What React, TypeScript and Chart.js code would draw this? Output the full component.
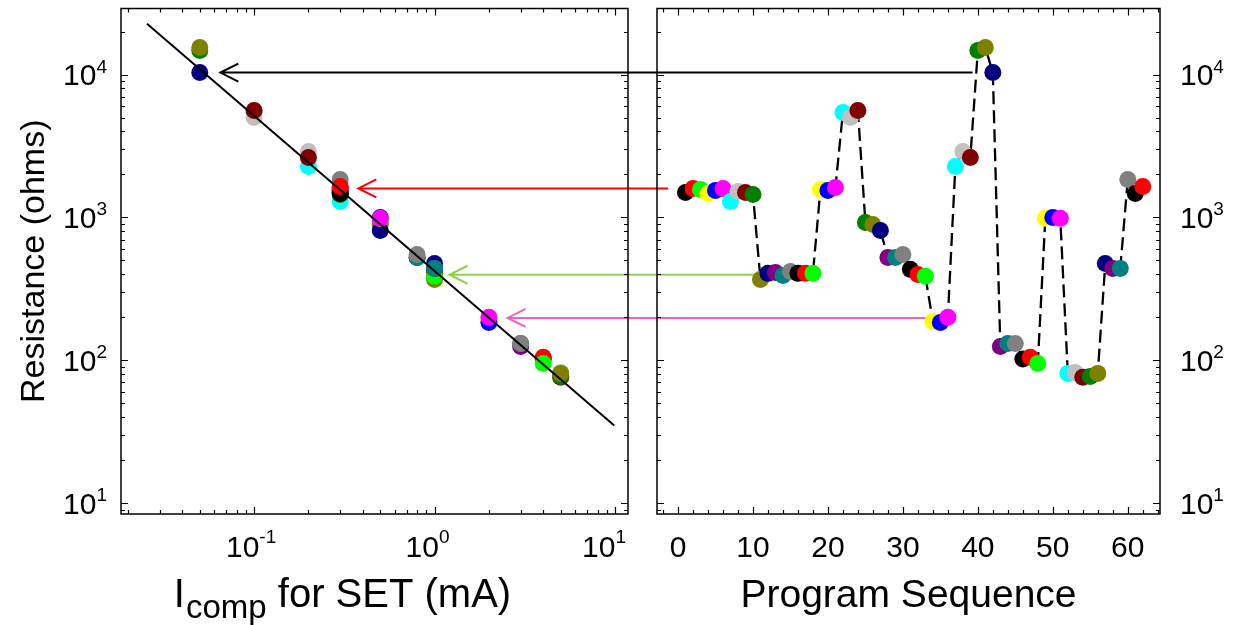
import React, { useEffect, useRef } from 'react';
import { Chart, registerables } from 'chart.js';
Chart.register(...registerables);

const W = 1233;
const H = 625;
const FONT = '"Liberation Sans", Arial, Helvetica, sans-serif';

// ---- data ----
const programSequence = [
  1, 2, 3, 4, 5, 6, 7, 8, 9, 10,
  11, 12, 13, 14, 15, 16, 17, 18,
  19, 20, 21, 22, 23, 24, 25, 26, 27, 28, 29, 30,
  31, 32, 33, 34, 35, 36, 37, 38, 39, 40, 41, 42,
  43, 44, 45, 46, 47, 48, 49, 50, 51,
  52, 53, 54, 55, 56, 57, 58, 59, 60, 61, 62,
];
const resistance = [
  1496, 1596, 1570, 1472, 1545, 1596, 1294, 1520, 1496, 1448,
  368, 406, 412, 393, 419, 406, 406, 406,
  1570, 1545, 1622, 5425, 5000, 5600, 923, 893, 811, 525, 525, 551,
  433, 399, 387, 187, 184, 200, 2274, 2895, 2628, 14730, 15450, 10330,
  125, 131, 131, 102, 105, 95, 985, 1000, 985,
  81, 82, 76, 77, 81, 476, 440, 440, 1843, 1472, 1648,
];
const icomp = [
  0.3, 0.3, 0.3, 0.3, 0.3, 0.3, 0.3, 0.3, 0.3, 0.3,
  1, 1, 1, 1, 1, 1, 1, 1,
  0.3, 0.3, 0.3, 0.1, 0.1, 0.1, 0.5, 0.5, 0.5, 0.8, 0.8, 0.8,
  1, 1, 1, 2, 2, 2, 0.2, 0.2, 0.2, 0.05, 0.05, 0.05,
  3, 3, 3, 4, 4, 4, 0.5, 0.5, 0.5,
  5, 5, 5, 5, 5, 1, 1, 1, 0.3, 0.3, 0.3,
];
const colorCycle = [
  '#000000', '#FF0000', '#00FF00', '#FFFF00', '#0000FF', '#FF00FF', '#00FFFF', '#C0C0C0',
  '#800000', '#008000', '#808000', '#000080', '#800080', '#008080', '#808080',
];
const fitIcomp = [0.0255, 9.9];
const fitResistance = [22700, 35];

const arrowSeqStart = [39.3, -1.3, 16.7, 33.2];
const arrowIcompEnd = [0.065, 0.378, 1.21, 2.54];
const arrowResistance = [10330, 1596, 397, 198];
const arrowColors = ['#000000', '#FF0000', '#92D050', '#F060C0'];

const yTickValues = [10, 100, 1000, 10000];
const yTickSup = ['1', '2', '3', '4'];
const xLogTickValues = [0.1, 1, 10];
const xLogTickSup = ['-1', '0', '1'];
const xSeqTickValues = [0, 10, 20, 30, 40, 50, 60];
const xSeqTickLabels = ['0', '10', '20', '30', '40', '50', '60'];

const pointColors = resistance.map((_, i) => colorCycle[i % colorCycle.length]);

// ---- drawing helpers ----
const TICK_FONT = 30;
const SUP_FONT = 19;
const YTITLE_FONT = 34;
const XTITLE_FONT = 40;

function logTicks(min: number, max: number) {
  const out: { v: number; major: boolean }[] = [];
  for (let e = Math.floor(Math.log10(min)); e <= Math.ceil(Math.log10(max)); e++) {
    for (let k = 1; k <= 9; k++) {
      const v = k * Math.pow(10, e);
      if (v >= min && v <= max) out.push({ v, major: k === 1 });
    }
  }
  return out;
}
function linTicks(min: number, max: number, step: number, majorStep: number) {
  const out: { v: number; major: boolean }[] = [];
  for (let v = Math.ceil(min / step) * step; v <= max; v += step) {
    out.push({ v, major: Math.abs(v % majorStep) < 1e-9 });
  }
  return out;
}

function drawPow(ctx: CanvasRenderingContext2D, sup: string, x: number, baseY: number, align: string, supY: number) {
  ctx.font = `${TICK_FONT}px ${FONT}`;
  const bw = ctx.measureText('10').width;
  ctx.font = `${SUP_FONT}px ${FONT}`;
  const sw = ctx.measureText(sup).width;
  const total = bw + sw;
  const x0 = align === 'center' ? x - total / 2 : align === 'right' ? x - total : x;
  ctx.textAlign = 'left';
  ctx.textBaseline = 'alphabetic';
  ctx.font = `${TICK_FONT}px ${FONT}`;
  ctx.fillText('10', x0, baseY);
  ctx.font = `${SUP_FONT}px ${FONT}`;
  ctx.fillText(sup, x0 + bw, supY);
}

const framePlugin = {
  id: 'frame',
  afterDraw(chart: any) {
    const { ctx, chartArea } = chart;
    const { left, right, top, bottom } = chartArea;
    const xs = chart.scales.x;
    const ys = chart.scales.y;
    ctx.save();
    ctx.strokeStyle = '#000';
    ctx.lineWidth = 1.5;
    ctx.strokeRect(left, top, right - left, bottom - top);
    const xt = xs.type === 'logarithmic' ? logTicks(xs.min, xs.max) : linTicks(xs.min, xs.max, 2, 10);
    const yt = logTicks(ys.min, ys.max);
    ctx.lineWidth = 1.2;
    ctx.beginPath();
    for (const t of xt) {
      const px = Math.round(xs.getPixelForValue(t.v)) + 0.5;
      const len = t.major ? 7 : 4;
      ctx.moveTo(px, bottom); ctx.lineTo(px, bottom - len);
      ctx.moveTo(px, top); ctx.lineTo(px, top + len);
    }
    for (const t of yt) {
      const py = Math.round(ys.getPixelForValue(t.v)) + 0.5;
      const len = t.major ? 7 : 4;
      ctx.moveTo(left, py); ctx.lineTo(left + len, py);
      ctx.moveTo(right, py); ctx.lineTo(right - len, py);
    }
    ctx.stroke();
    ctx.restore();
  },
};

const leftLabelsPlugin = {
  id: 'leftLabels',
  afterDraw(chart: any) {
    const { ctx, chartArea } = chart;
    const xs = chart.scales.x;
    const ys = chart.scales.y;
    ctx.save();
    ctx.fillStyle = '#000';
    yTickValues.forEach((v, i) => {
      const py = ys.getPixelForValue(v);
      drawPow(ctx, yTickSup[i], 107, py + 10.5, 'right', py - 2);
    });
    xLogTickValues.forEach((v, i) => {
      const px = xs.getPixelForValue(v);
      drawPow(ctx, xLogTickSup[i], px - 3 - i * 4, 557, 'center', 543);
    });
    // y title
    ctx.save();
    ctx.translate(44, (chartArea.top + chartArea.bottom) / 2);
    ctx.rotate(-Math.PI / 2);
    ctx.font = `${YTITLE_FONT}px ${FONT}`;
    ctx.textAlign = 'center';
    ctx.textBaseline = 'alphabetic';
    ctx.fillText('Resistance (ohms)', 0, 0);
    ctx.restore();
    // x title with subscript
    const subSize = Math.round(XTITLE_FONT * 0.82);
    ctx.font = `${XTITLE_FONT}px ${FONT}`;
    const w1 = ctx.measureText('I').width;
    const w3 = ctx.measureText(' for SET (mA)').width;
    ctx.font = `${subSize}px ${FONT}`;
    const w2 = ctx.measureText('comp').width;
    const cx = 342;
    const x0 = cx - (w1 + w2 + w3) / 2;
    const base = 607;
    ctx.textAlign = 'left';
    ctx.font = `${XTITLE_FONT}px ${FONT}`;
    ctx.fillText('I', x0, base);
    ctx.font = `${subSize}px ${FONT}`;
    ctx.fillText('comp', x0 + w1 + 1, base + 11);
    ctx.font = `${XTITLE_FONT}px ${FONT}`;
    ctx.fillText(' for SET (mA)', x0 + w1 + w2 + 1, base);
    ctx.restore();
  },
};

const rightLabelsPlugin = {
  id: 'rightLabels',
  afterDraw(chart: any) {
    const { ctx, chartArea } = chart;
    const xs = chart.scales.x;
    const ys = chart.scales.y;
    ctx.save();
    ctx.fillStyle = '#000';
    yTickValues.forEach((v, i) => {
      const py = ys.getPixelForValue(v);
      drawPow(ctx, yTickSup[i], chartArea.right + 20, py + 10.5, 'left', py - 2);
    });
    ctx.font = `${TICK_FONT}px ${FONT}`;
    ctx.textAlign = 'center';
    ctx.textBaseline = 'alphabetic';
    xSeqTickValues.forEach((v, i) => {
      ctx.fillText(xSeqTickLabels[i], xs.getPixelForValue(v), 557);
    });
    ctx.font = `${XTITLE_FONT - 1}px ${FONT}`;
    ctx.fillText('Program Sequence', (chartArea.left + chartArea.right) / 2, 607);
    ctx.restore();
  },
};

function makeArrowPlugin(getRight: () => any) {
  return {
    id: 'arrows',
    afterDatasetsDraw(chart: any) {
      const right = getRight();
      if (!right) return;
      const { ctx } = chart;
      const lx = chart.scales.x;
      const ly = chart.scales.y;
      const rx = right.scales.x;
      ctx.save();
      ctx.lineWidth = 2;
      arrowSeqStart.forEach((s, i) => {
        const x1 = rx.getPixelForValue(s);
        const x2 = lx.getPixelForValue(arrowIcompEnd[i]);
        const y = ly.getPixelForValue(arrowResistance[i]);
        ctx.strokeStyle = arrowColors[i];
        ctx.beginPath();
        ctx.moveTo(x1, y);
        ctx.lineTo(x2, y);
        ctx.moveTo(x2 + 18, y - 9);
        ctx.lineTo(x2, y);
        ctx.lineTo(x2 + 18, y + 9);
        ctx.stroke();
      });
      ctx.restore();
    },
  };
}

const Y_MIN = 8.4;
const Y_MAX = 29000;

export default function App() {
  const leftRef = useRef<HTMLCanvasElement>(null);
  const rightRef = useRef<HTMLCanvasElement>(null);

  useEffect(() => {
    const rightChart: any = new Chart(rightRef.current as HTMLCanvasElement, {
      type: 'scatter',
      data: {
        datasets: [
          {
            data: programSequence.map((s, i) => ({ x: s, y: resistance[i] })),
            showLine: true,
            borderColor: '#000',
            borderWidth: 2.3,
            borderDash: [13, 6],
            pointRadius: 8.5,
            pointHoverRadius: 8.5,
            pointBackgroundColor: pointColors,
            pointBorderWidth: 0,
            pointBorderColor: 'rgba(0,0,0,0)',
          },
        ],
      },
      options: {
        responsive: false,
        animation: false,
        events: [],
        layout: { padding: { left: 657, top: 7, right: 0, bottom: 0 } },
        plugins: { legend: { display: false }, tooltip: { enabled: false } },
        scales: {
          x: {
            type: 'linear', min: -2.8, max: 64.3,
            grid: { display: false }, border: { display: false }, ticks: { display: false },
            afterFit: (s: any) => { s.height = 111; },
          },
          y: {
            type: 'logarithmic', position: 'right', min: Y_MIN, max: Y_MAX,
            grid: { display: false }, border: { display: false }, ticks: { display: false },
            afterFit: (s: any) => { s.width = 73; },
          },
        },
      },
      plugins: [framePlugin, rightLabelsPlugin],
    } as any);

    const leftChart: any = new Chart(leftRef.current as HTMLCanvasElement, {
      type: 'scatter',
      data: {
        datasets: [
          {
            type: 'line',
            data: fitIcomp.map((x, i) => ({ x, y: fitResistance[i] })),
            borderColor: '#000',
            borderWidth: 2,
            pointRadius: 0,
            showLine: true,
          },
          {
            data: icomp.map((x, i) => ({ x, y: resistance[i] })),
            showLine: false,
            pointRadius: 8.5,
            pointHoverRadius: 8.5,
            pointBackgroundColor: pointColors,
            pointBorderWidth: 0,
            pointBorderColor: 'rgba(0,0,0,0)',
          },
        ],
      },
      options: {
        responsive: false,
        animation: false,
        events: [],
        layout: { padding: { left: 0, top: 7, right: W - 628, bottom: 0 } },
        plugins: { legend: { display: false }, tooltip: { enabled: false } },
        scales: {
          x: {
            type: 'logarithmic', min: 0.0183, max: 11.8,
            grid: { display: false }, border: { display: false }, ticks: { display: false },
            afterFit: (s: any) => { s.height = 111; },
          },
          y: {
            type: 'logarithmic', min: Y_MIN, max: Y_MAX,
            grid: { display: false }, border: { display: false }, ticks: { display: false },
            afterFit: (s: any) => { s.width = 121; },
          },
        },
      },
      plugins: [framePlugin, leftLabelsPlugin, makeArrowPlugin(() => rightChart)],
    } as any);

    return () => {
      leftChart.destroy();
      rightChart.destroy();
    };
  }, []);

  return (
    <div style={{ position: 'absolute', left: 0, top: 0, width: W, height: H, background: '#fff' }}>
      <canvas ref={leftRef} width={W} height={H} style={{ position: 'absolute', left: 0, top: 0 }} />
      <canvas ref={rightRef} width={W} height={H} style={{ position: 'absolute', left: 0, top: 0 }} />
    </div>
  );
}
